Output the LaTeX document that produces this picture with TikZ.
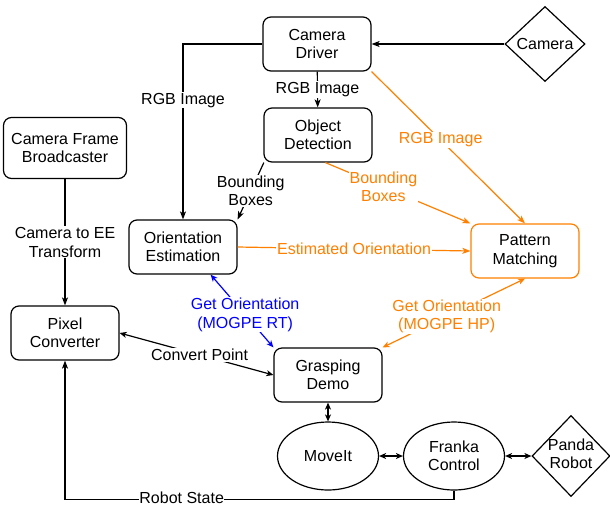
\documentclass[tikz,border=0pt]{standalone}
\usepackage{fontspec}
\setmainfont{Liberation Sans}
\usetikzlibrary{shapes.geometric,arrows.meta}

\definecolor{ioorange}{RGB}{255,128,0}
\definecolor{ioblue}{RGB}{0,0,255}

\tikzset{
  block/.style={draw, rounded corners=8pt, line width=1.2pt, minimum width=108pt, minimum height=54pt, align=center, inner sep=2pt},
  blob/.style={draw, ellipse, line width=1.2pt, minimum width=101pt, minimum height=68pt, align=center, inner sep=0pt},
  dia/.style={draw, diamond, line width=1.2pt, inner sep=0pt},
  link/.style={line width=1.2pt, -{Stealth[length=8pt,width=6pt,inset=2pt]}},
  twoway/.style={line width=1.2pt, {Stealth[length=7pt,width=6pt,inset=2pt]}-{Stealth[length=7pt,width=6pt,inset=2pt]}},
  tag/.style={fill=white, inner sep=1pt, align=center},
}

\begin{document}
\begin{tikzpicture}[x=1pt, y=-1pt, font=\fontsize{16pt}{18.5pt}\selectfont]
        \useasboundingbox (0,0) rectangle (610,507);

        % Camera side
        \node[dia, minimum width=80pt, minimum height=75pt, label=center:{Camera}] (camera) at (545,44) {};
        \node[block] (driver) at (317,44) {Camera\\Driver};
        \node[block] (detect) at (318,135) {Object\\Detection};

        % Left column
        \node[block, minimum width=123pt, minimum height=61pt] (frame) at (65,148) {Camera Frame\\Broadcaster};
        \node[block] (orient) at (183,247) {Orientation\\Estimation};
        \node[block] (pixel) at (65,333) {Pixel\\Converter};

        % Pattern matching (orange)
        \node[block, draw=ioorange] (pattern) at (525,251) {Pattern\\Matching};

        % Robot side
        \node[block] (grasp) at (328,375) {Grasping\\Demo};
        \node[blob] (moveit) at (328,456) {MoveIt};
        \node[blob] (franka) at (454,456) {Franka\\Control};
        \node[dia, minimum width=78pt, minimum height=81pt, label=center:{\begin{tabular}{@{}c@{}}Panda\\Robot\end{tabular}}] (panda) at (571,456) {};

        % Image stream
        \draw[link] (camera) -- (driver);
        \draw[link] (driver.west) -| node[tag, pos=0.66] {RGB Image} (orient.north);
        \draw[link] (driver) -- node[tag] {RGB Image} (detect);
        \draw[link] (detect.207) -- node[tag] {Bounding\\Boxes} (orient.north east);

        % Orange links to pattern matching
        \draw[link, ioorange] (driver.south east) -- node[tag, pos=0.45] {RGB Image} (pattern.north);
        \draw[link, ioorange] (detect.-75) -- node[tag, pos=0.4] {Bounding\\Boxes} (pattern.north west);
        \draw[link, ioorange] (orient.east) -- node[tag] {Estimated Orientation} (pattern.west);

        % Transform
        \draw[link] (frame) -- node[tag] {Camera to EE\\Transform} (pixel);

        % Requests from the demo
        \draw[twoway, ioblue] (orient.-45) -- node[tag, text=ioblue, pos=0.55] {Get Orientation\\(MOGPE RT)} (grasp.north west);
        \draw[twoway, ioorange] (pattern.south) -- node[tag, text=ioorange, pos=0.55] {Get Orientation\\(MOGPE HP)} (grasp.north east);
        \draw[twoway] (pixel.east) -- node[tag, pos=0.52] {Convert Point} (grasp.west);

        % Robot chain
        \draw[twoway] (grasp) -- (moveit);
        \draw[twoway] (moveit) -- (franka);
        \draw[twoway] (franka) -- (panda);
        \draw[link] (franka.south) -- ++(0,9) -| node[tag, pos=0.35, inner sep=0pt, yshift=1.5pt] {Robot State} (pixel.south);
    \end{tikzpicture}
\end{document}
